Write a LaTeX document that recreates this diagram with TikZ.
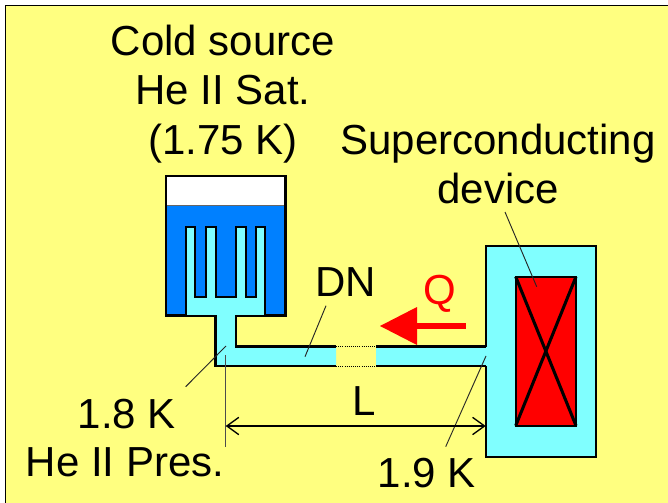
\documentclass[tikz,border=0pt]{standalone}
\usepackage{fontspec}
\setmainfont{Liberation Sans}
\usetikzlibrary{arrows.meta}
\definecolor{bgyellow}{HTML}{FFFF80}
\definecolor{hecyan}{HTML}{80FFFF}
\definecolor{heblue}{HTML}{0080FF}
\tikzset{
  x=0.75pt,y=-0.75pt,
  label text/.style={inner sep=0pt,anchor=base,font=\fontsize{31.5}{37.5}\selectfont},
  thick wall/.style={draw=black,line width=2pt,line cap=butt,line join=miter},
  thin wall/.style={draw=black,line width=1.6pt,line join=miter},
  leader/.style={draw=black!85,line width=0.7pt},
  dim/.style={draw=black,line width=0.8pt,{Straight Barb[length=9pt,width=13pt,line width=1pt]}-{Straight Barb[length=9pt,width=13pt,line width=1pt]}},
}
\begin{document}
\begin{tikzpicture}
\useasboundingbox (0,0) rectangle (668,503);
\fill[white] (0,0) rectangle (668,503);
\fill[bgyellow] (5.5,5.5) rectangle (668,503);
\draw[black,line width=0.8pt] (5.5,503) -- (5.5,5.5) -- (668,5.5);

% tank
\fill[white] (166,176) rectangle (285.7,205.7);
\fill[heblue] (166,205.7) rectangle (285.7,315.7);
\draw[draw=black!60,line width=0.8pt] (166,205.7) -- (285.7,205.7);

% helium II path: fins, neck and pipe
\fill[hecyan] (186,315.7) -- (186,226.7) -- (195,226.7) -- (195,296.7) -- (205.7,296.7) -- (205.7,226.7) -- (215.7,226.7) -- (215.7,296.7) -- (236,296.7) -- (236,226.7) -- (245.7,226.7) -- (245.7,296.7) -- (255.7,296.7) -- (255.7,226.7) -- (265.3,226.7) -- (265.3,315.7) -- (236,315.7) -- (236,346.5) -- (336,346.5) -- (336,366) -- (215.7,366) -- (215.7,315.7) -- cycle;
\fill[hecyan] (376,346.5) rectangle (490,366);
\fill[hecyan] (485.7,246) rectangle (595.7,456.7);

% tank outline
\draw[thick wall] (186,315.7) -- (166,315.7) -- (166,176) -- (285.7,176) -- (285.7,315.7) -- (265.3,315.7);
\draw[thin wall] (186,315.7) -- (186,226.7) -- (195,226.7) -- (195,296.7) -- (205.7,296.7) -- (205.7,226.7) -- (215.7,226.7) -- (215.7,296.7) -- (236,296.7) -- (236,226.7) -- (245.7,226.7) -- (245.7,296.7) -- (255.7,296.7) -- (255.7,226.7) -- (265.3,226.7) -- (265.3,315.7);
\draw[thin wall] (186,315.7) -- (215.7,315.7);
\draw[thin wall] (265.3,315.7) -- (236,315.7);

% pipe
\draw[thick wall] (215.7,315) -- (215.7,366) -- (336,366);
\draw[thick wall] (236,315) -- (236,346.5) -- (336,346.5);
\draw[thick wall] (376,346.5) -- (486,346.5);
\draw[thick wall] (376,366) -- (486,366);
\draw[black,line width=0.6pt,densely dotted] (336,346.5) -- (376,346.5);
\draw[black,line width=0.6pt,densely dotted] (336,366) -- (376,366);

% device housing
\draw[thin wall] (485.7,346.5) -- (485.7,246) -- (595.7,246) -- (595.7,456.7) -- (485.7,456.7) -- (485.7,366);

% coil
\node[draw=black,line width=1.5pt,fill=red,minimum width=60.3*0.75pt,minimum height=149*0.75pt,inner sep=0pt,outer sep=0pt] (coil) at (545.85,351.2) {};
\draw[black,line width=2.3pt] (coil.north west) -- (coil.south east);
\draw[black,line width=2.3pt] (coil.north east) -- (coil.south west);

% heat flow
\fill[red] (380,326) -- (417,307) -- (417,345) -- cycle;
\fill[red] (415,322.6) rectangle (465.7,329.4);

% labels
\node[label text] (cold) at (223,55.5) {Cold source};
\node[label text] (sat) at (223,105) {He II Sat.};
\node[label text] (temp) at (223,154) {(1.75 K)};
\node[label text] (sc) at (498,154) {Superconducting};
\node[label text] (dev) at (498,203) {device};
\node[label text] (dn) at (345.5,296) {DN};
\node[label text,text=red] (q) at (439.5,304) {Q};
\node[label text] (ell) at (364,415) {L};
\node[label text] (t18) at (127,428) {1.8 K};
\node[label text] (pres) at (125,476.5) {He II Pres.};
\node[label text] (t19) at (427,487) {1.9 K};

% leaders
\coordinate (devA) at (505,212);
\coordinate (devB) at (536.7,286.7);
\coordinate (dnA) at (326,305.7);
\coordinate (dnB) at (305,356.7);
\coordinate (n19A) at (486,356);
\coordinate (n19B) at (445.7,446.7);
\coordinate (n18A) at (226,346);
\coordinate (n18B) at (185.7,386.7);
\coordinate (lTop) at (225.7,355);
\coordinate (lBot) at (225.7,446.7);
\coordinate (dimL) at (225.7,426);
\coordinate (dimR) at (485.7,426);
\draw[leader] (devA) -- (devB);
\draw[leader] (dnA) -- (dnB);
\draw[leader] (n19A) -- (n19B);
\draw[leader] (n18A) -- (n18B);
\draw[draw=black!70,line width=0.9pt] (lTop) -- (lBot);
\draw[dim] (dimL) -- (dimR);
\end{tikzpicture}
\end{document}
